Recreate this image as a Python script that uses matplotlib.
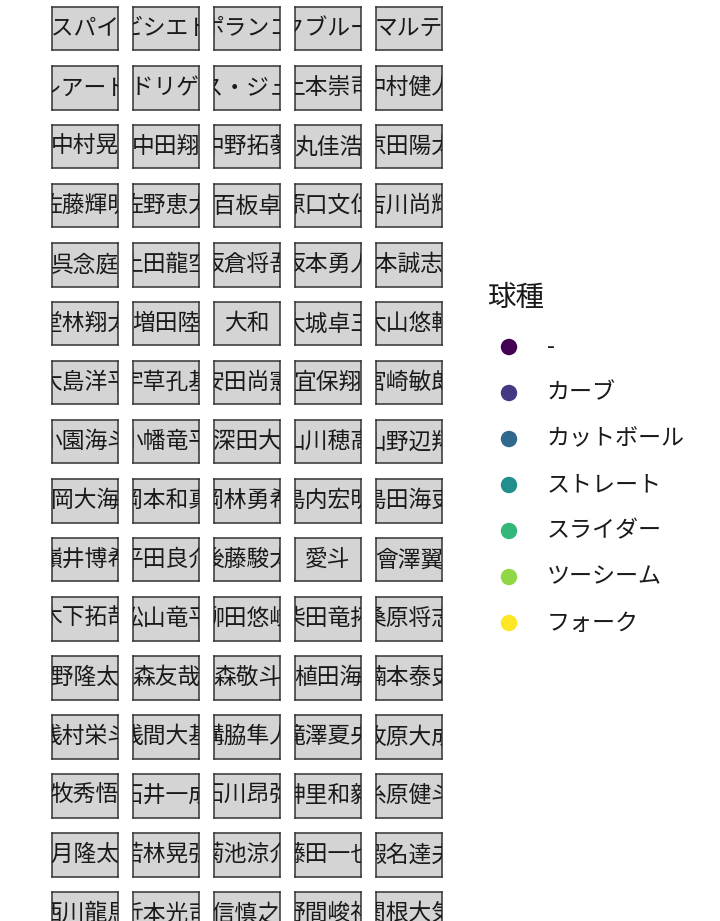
import matplotlib
matplotlib.use("Agg")
import matplotlib.pyplot as plt

plt.rcParams['font.family'] = ['Noto Sans CJK JP', 'DejaVu Sans']

# facet labels (batters), in panel order
players = [
    "デスパイネ", "ビシエド", "ポランコ", "マクブルーム", "マルテ",
    "レアード", "ロドリゲス", "ロハス・ジュニア", "上本崇司", "中村健人",
    "中村晃", "中田翔", "中野拓夢", "丸佳浩", "京田陽太",
    "佐藤輝明", "佐野恵太", "八百板卓丸", "原口文仁", "吉川尚輝",
    "呉念庭", "土田龍空", "坂倉将吾", "坂本勇人", "坂本誠志郎",
    "堂林翔太", "増田陸", "大和", "大城卓三", "大山悠輔",
    "大島洋平", "宇草孔基", "安田尚憲", "宜保翔", "宮崎敏郎",
    "小園海斗", "小幡竜平", "小深田大翔", "山川穂高", "山野辺翔",
    "岡大海", "岡本和真", "岡林勇希", "島内宏明", "島田海吏",
    "嶺井博希", "平田良介", "後藤駿太", "愛斗", "會澤翼",
    "木下拓哉", "松山竜平", "柳田悠岐", "柴田竜拓", "桑原将志",
    "梅野隆太郎", "森友哉", "森敬斗", "植田海", "楠本泰史",
    "浅村栄斗", "浅間大基", "溝脇隼人", "滝澤夏央", "牧原大成",
    "牧秀悟", "石井一成", "石川昂弥", "神里和毅", "糸原健斗",
    "羽月隆太郎", "若林晃弘", "菊池涼介", "藤田一也", "蝦名達夫",
    "西川龍馬", "近本光司", "重信慎之介", "野間峻祥", "関根大気",
]

# legend: pitch types and their viridis colours
pitch_types = ["-", "カーブ", "カットボール", "ストレート", "スライダー", "ツーシーム", "フォーク"]
pitch_colors = ["#440154", "#443A83", "#31688E", "#21908C", "#35B779", "#8FD744", "#FDE725"]

W, H = 720, 921
fig = plt.figure(figsize=(W / 100, H / 100), dpi=100)
fig.patch.set_facecolor("white")


def px_axes(x, y, w, h):
    return fig.add_axes([x / W, 1 - (y + h) / H, w / W, h / H])


ncol = 5
for i, name in enumerate(players):
    r, c = divmod(i, ncol)
    ax = px_axes(52.3 + 81 * c, 7 + 59 * r, 65.3, 43.5)
    ax.set_facecolor("#D4D4D4")
    ax.set_xticks([])
    ax.set_yticks([])
    for s in ax.spines.values():
        s.set_color("#333333")
        s.set_linewidth(1.1)
    ax.text(0.5, 0.5, name, transform=ax.transAxes, ha="center", va="center",
            fontsize=16.4, color="#1A1A1A", clip_on=True)

# legend
lax = px_axes(470, 324, 240, 46 * len(pitch_types))
lax.set_xlim(0, 240)
lax.set_ylim(len(pitch_types) - 0.5, -0.5)
lax.axis("off")
ypos = list(range(len(pitch_types)))
lax.scatter([39] * len(pitch_types), ypos, s=140, c=pitch_colors, edgecolors="none")
for yy, lab in zip(ypos, pitch_types):
    lax.text(77, yy, lab, ha="left", va="center", fontsize=16.6, color="#1A1A1A")

fig.text(487 / W, 1 - 298 / H, "球種", ha="left", va="center", fontsize=20.5, color="#1A1A1A")

fig.savefig("out.png", dpi=100)
